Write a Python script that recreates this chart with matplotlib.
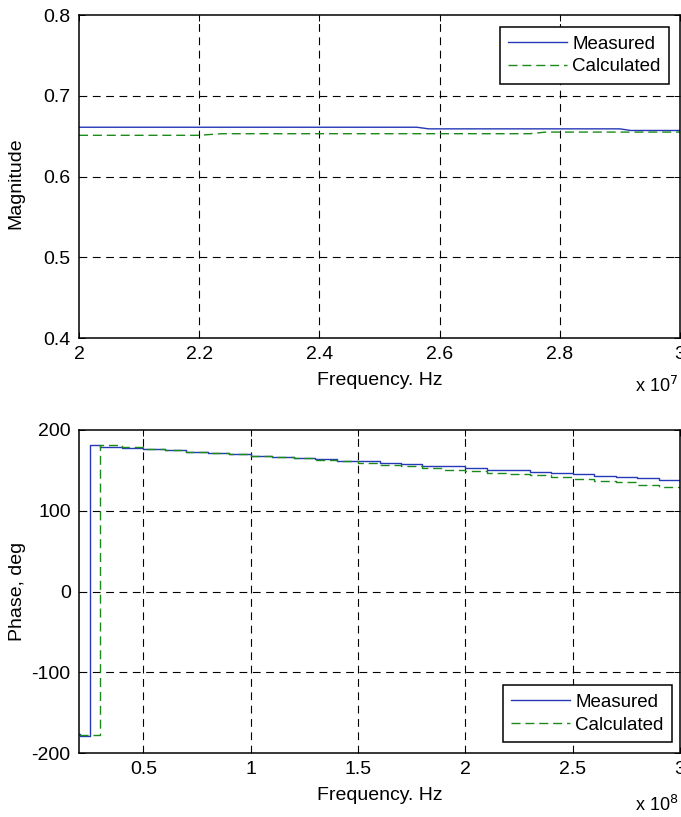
import matplotlib
matplotlib.use("Agg")
import matplotlib.pyplot as plt
from matplotlib.ticker import FuncFormatter, FixedLocator

plt.rcParams['font.family'] = ['Liberation Sans', 'DejaVu Sans']

# ---- Data: magnitude (Hz, unitless) ----
mag_meas_f = [2.0e7, 2.562e7, 2.582e7, 2.90e7, 2.918e7, 3.0e7]
mag_meas_v = [0.661, 0.661, 0.659, 0.659, 0.657, 0.657]
mag_calc_f = [2.0e7, 2.198e7, 2.238e7, 2.75e7, 2.777e7, 3.0e7]
mag_calc_v = [0.651, 0.651, 0.653, 0.653, 0.655, 0.655]

# ---- Data: phase (Hz, deg), stepwise ----
ph_meas_f = [0.20e8, 0.205e8, 0.253e8, 0.30e8, 0.40e8, 0.50e8, 0.60e8, 0.70e8, 0.80e8,
             0.90e8, 1.00e8, 1.10e8, 1.20e8, 1.30e8, 1.40e8, 1.50e8, 1.60e8, 1.70e8,
             1.80e8, 1.90e8, 2.00e8, 2.10e8, 2.20e8, 2.30e8, 2.40e8, 2.50e8, 2.60e8,
             2.70e8, 2.80e8, 2.90e8, 3.00e8]
ph_meas_v = [-177, -179, 181, 179, 178, 176, 175, 173, 172,
             170, 168, 167, 165, 164, 162, 161, 159, 158,
             156, 155, 153, 151, 150, 148, 147, 145, 143,
             142, 140, 138, 137]
ph_calc_f = [0.20e8, 0.30e8, 0.35e8, 0.40e8, 0.50e8, 0.60e8, 0.70e8, 0.80e8,
             0.90e8, 1.00e8, 1.10e8, 1.20e8, 1.30e8, 1.40e8, 1.50e8, 1.60e8, 1.70e8,
             1.80e8, 1.90e8, 2.00e8, 2.10e8, 2.20e8, 2.30e8, 2.40e8, 2.50e8, 2.60e8,
             2.70e8, 2.80e8, 2.90e8, 3.00e8]
ph_calc_v = [-178, 182, 181, 179, 177, 175, 173, 172,
             170, 168, 166, 165, 163, 161, 159, 157, 155,
             153, 151, 149, 147, 146, 144, 142, 139, 137,
             135, 132, 130, 127]

top_xticks = [2.0e7, 2.2e7, 2.4e7, 2.6e7, 2.8e7, 3.0e7]
top_yticks = [0.4, 0.5, 0.6, 0.7, 0.8]
bot_xticks = [0.5e8, 1.0e8, 1.5e8, 2.0e8, 2.5e8, 3.0e8]
bot_yticks = [-200, -100, 0, 100, 200]

BLUE = '#2438b8'
GREEN = '#1a8a1a'
FS = 14
LFS = 13.5

fig = plt.figure(figsize=(6.81, 8.17), dpi=100)
W, H = 681, 817

def ax_at(l, t, r, b):
    return fig.add_axes([l / W, 1 - b / H, (r - l) / W, (b - t) / H])

ax1 = ax_at(79, 15, 680, 338)
ax2 = ax_at(79, 430, 680, 753)

def fmt(v, scale):
    return '%g' % (v / scale)

def style(ax, xlim, ylim):
    ax.grid(True, color='black', linestyle=(0, (7, 5)), linewidth=0.8)
    ax.tick_params(direction='in', length=4, width=0.7, labelsize=FS, top=True, right=True,
                   pad=6)
    for gl, t in zip(ax.xaxis.get_gridlines(), ax.get_xticks()):
        if abs(t - xlim[0]) < 1e-9 * abs(xlim[1]) or abs(t - xlim[1]) < 1e-9 * abs(xlim[1]):
            gl.set_visible(False)
    for gl, t in zip(ax.yaxis.get_gridlines(), ax.get_yticks()):
        if abs(t - ylim[0]) < 1e-9 or abs(t - ylim[1]) < 1e-9:
            gl.set_visible(False)
    for sp in ax.spines.values():
        sp.set_linewidth(1.1)
        sp.set_color('black')
        sp.set_zorder(5)

DASH = (0, (6.5, 3.5))

# Top
ax1.plot(mag_meas_f, mag_meas_v, color=BLUE, lw=1.0, label='Measured')
ax1.plot(mag_calc_f, mag_calc_v, color=GREEN, lw=1.0, ls=DASH, label='Calculated')
ax1.set_xlim(2.0e7, 3.0e7)
ax1.set_ylim(0.4, 0.8)
ax1.xaxis.set_major_locator(FixedLocator(top_xticks))
ax1.yaxis.set_major_locator(FixedLocator(top_yticks))
ax1.xaxis.set_major_formatter(FuncFormatter(lambda v, p: fmt(v, 1e7)))
ax1.yaxis.set_major_formatter(FuncFormatter(lambda v, p: '%.1f' % v))
style(ax1, (2.0e7, 3.0e7), (0.4, 0.8))
ax1.set_xlabel('Frequency. Hz', fontsize=FS)
ax1.xaxis.set_label_coords(0.5, -(372 - 338) / 323, transform=ax1.transAxes)
ax1.set_ylabel('Magnitude', fontsize=FS)
ax1.yaxis.set_label_coords((24 - 79) / 601, 0.48, transform=ax1.transAxes)
leg1 = ax1.legend(loc='upper right', fontsize=LFS, frameon=True, fancybox=False,
                  edgecolor='black', framealpha=1, handlelength=3.1, borderpad=0.45,
                  labelspacing=0.3, handletextpad=0.3, borderaxespad=0,
                  bbox_to_anchor=((669 - 79) / 601, 1 - (27 - 15) / 323))
leg1.get_frame().set_linewidth(1.1)
fig.text(678 / W, 1 - 392 / H, r'x 10$^{7}$', fontsize=FS - 1, ha='right', va='baseline')

# Bottom
ax2.plot(ph_meas_f, ph_meas_v, color=BLUE, lw=1.0, drawstyle='steps-post', label='Measured')
ax2.plot(ph_calc_f, ph_calc_v, color=GREEN, lw=1.0, ls=DASH, drawstyle='steps-post',
         label='Calculated')
ax2.set_xlim(0.2e8, 3.0e8)
ax2.set_ylim(-200, 200)
ax2.xaxis.set_major_locator(FixedLocator(bot_xticks))
ax2.yaxis.set_major_locator(FixedLocator(bot_yticks))
ax2.xaxis.set_major_formatter(FuncFormatter(lambda v, p: fmt(v, 1e8)))
ax2.yaxis.set_major_formatter(FuncFormatter(lambda v, p: '%d' % v))
style(ax2, (0.2e8, 3.0e8), (-200, 200))
ax2.set_xlabel('Frequency. Hz', fontsize=FS)
ax2.xaxis.set_label_coords(0.5, -(787 - 753) / 323, transform=ax2.transAxes)
ax2.set_ylabel('Phase, deg', fontsize=FS)
ax2.yaxis.set_label_coords((26 - 79) / 601, 0.5, transform=ax2.transAxes)
leg2 = ax2.legend(loc='lower right', fontsize=LFS, frameon=True, fancybox=False,
                  edgecolor='black', framealpha=1, handlelength=3.1, borderpad=0.45,
                  labelspacing=0.3, handletextpad=0.3, borderaxespad=0,
                  bbox_to_anchor=((672 - 79) / 601, (753 - 742) / 323))
leg2.get_frame().set_linewidth(1.1)
fig.text(678 / W, 1 - 811 / H, r'x 10$^{8}$', fontsize=FS - 1, ha='right', va='baseline')

fig.savefig('out.png', dpi=100)
